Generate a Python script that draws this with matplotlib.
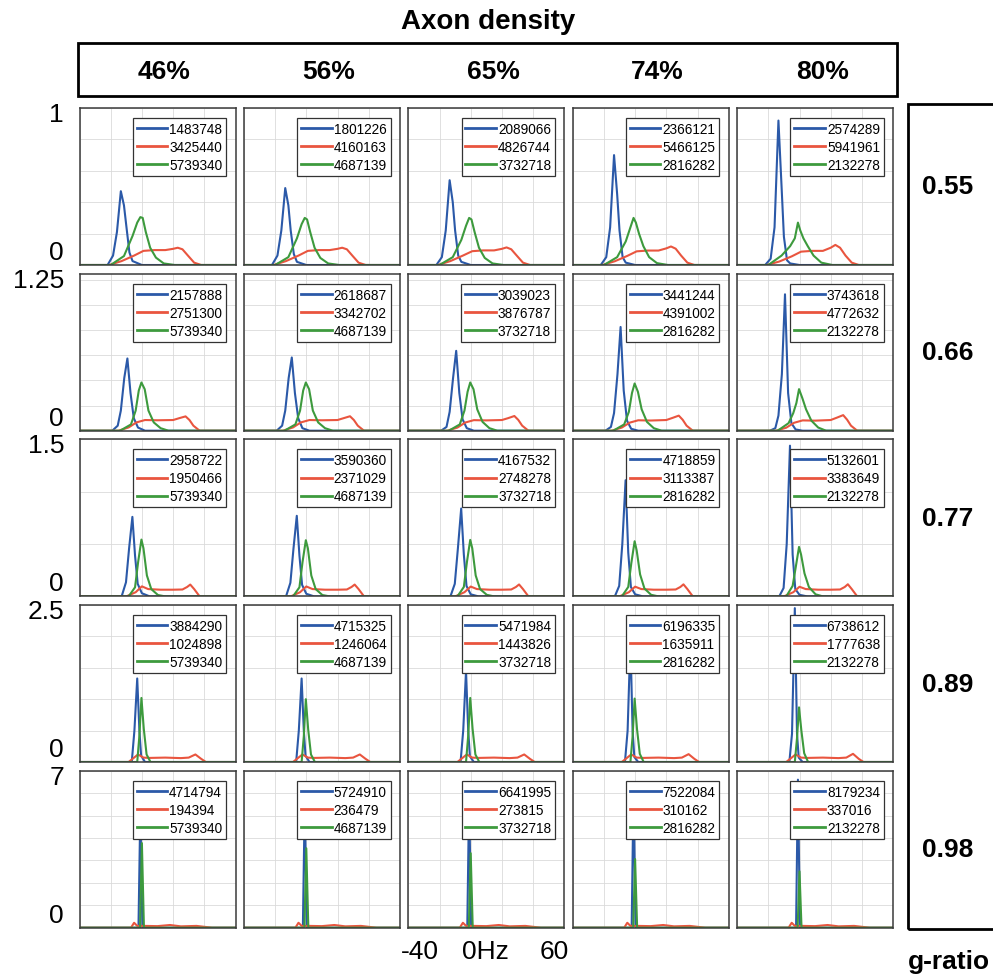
# Spike-rate histograms for 5 g-ratios x 5 axon densities
import numpy as np
import matplotlib.pyplot as plt
from matplotlib.patches import Rectangle

plt.rcParams['font.family'] = ['Liberation Sans', 'DejaVu Sans']

densities = ['46%', '56%', '65%', '74%', '80%']
gratios = ['0.55', '0.66', '0.77', '0.89', '0.98']
ymax = [1, 1.25, 1.5, 2.5, 7]
ytop_labels = ['1', '1.25', '1.5', '2.5', '7']
ystep = [0.2, 0.2, 0.5, 0.5, 1]

blue_counts = [[1483748, 1801226, 2089066, 2366121, 2574289],
               [2157888, 2618687, 3039023, 3441244, 3743618],
               [2958722, 3590360, 4167532, 4718859, 5132601],
               [3884290, 4715325, 5471984, 6196335, 6738612],
               [4714794, 5724910, 6641995, 7522084, 8179234]]
red_counts = [[3425440, 4160163, 4826744, 5466125, 5941961],
              [2751300, 3342702, 3876787, 4391002, 4772632],
              [1950466, 2371029, 2748278, 3113387, 3383649],
              [1024898, 1246064, 1443826, 1635911, 1777638],
              [194394, 236479, 273815, 310162, 337016]]
green_counts = [5739340, 4687139, 3732718, 2816282, 2132278]

# g-ratio 0.55  (x in Hz, one y list per density column)
b1_x = [-40, -22, -18.5, -16, -13.5, -11.5, -10, -8, -6, 0, 60]
b1_y = [[0, 0, 0.06, 0.21, 0.47, 0.38, 0.25, 0.08, 0.025, 0, 0],
        [0, 0, 0.06, 0.22, 0.49, 0.38, 0.22, 0.07, 0.02, 0, 0],
        [0, 0, 0.05, 0.22, 0.54, 0.40, 0.22, 0.06, 0.02, 0, 0],
        [0, 0, 0.05, 0.24, 0.70, 0.45, 0.22, 0.05, 0.015, 0, 0],
        [0, 0, 0.04, 0.24, 0.92, 0.50, 0.18, 0.03, 0.01, 0, 0]]
r1_x = [-40, -21, -13, -5, 1, 8, 15, 20, 23, 26, 29.5, 33.5, 38, 60]
r1_y = [[0, 0, 0.025, 0.06, 0.09, 0.095, 0.095, 0.103, 0.11, 0.10, 0.06, 0.015, 0, 0],
        [0, 0, 0.025, 0.06, 0.09, 0.095, 0.095, 0.103, 0.11, 0.10, 0.06, 0.015, 0, 0],
        [0, 0, 0.025, 0.06, 0.088, 0.093, 0.093, 0.103, 0.112, 0.10, 0.06, 0.015, 0, 0],
        [0, 0, 0.024, 0.058, 0.087, 0.092, 0.092, 0.106, 0.118, 0.104, 0.06, 0.015, 0, 0],
        [0, 0, 0.022, 0.055, 0.085, 0.09, 0.09, 0.11, 0.128, 0.11, 0.06, 0.015, 0, 0]]
g1_x = [-40, -20, -11.5, -6, -3, -1, 0.5, 2.5, 5.3, 9, 14, 21, 60]
g1_y = [[0, 0, 0.057, 0.185, 0.27, 0.305, 0.30, 0.21, 0.11, 0.047, 0.01, 0, 0],
        [0, 0, 0.05, 0.17, 0.26, 0.30, 0.29, 0.21, 0.11, 0.045, 0.01, 0, 0],
        [0, 0, 0.05, 0.16, 0.25, 0.30, 0.29, 0.21, 0.11, 0.045, 0.01, 0, 0],
        [0, 0, 0.05, 0.15, 0.24, 0.30, 0.27, 0.20, 0.12, 0.05, 0.012, 0, 0],
        [0, 0, 0.06, 0.12, 0.17, 0.27, 0.22, 0.17, 0.12, 0.06, 0.015, 0, 0]]

# g-ratio 0.66
b2_x = [-40, -19, -15.5, -13.5, -11.3, -9.3, -7.3, -5.2, -2.5, 2, 60]
b2_y = [[0, 0, 0.04, 0.16, 0.42, 0.575, 0.30, 0.10, 0.025, 0, 0],
        [0, 0, 0.04, 0.16, 0.42, 0.583, 0.30, 0.10, 0.02, 0, 0],
        [0, 0, 0.03, 0.15, 0.42, 0.636, 0.30, 0.09, 0.02, 0, 0],
        [0, 0, 0.03, 0.14, 0.45, 0.826, 0.32, 0.08, 0.015, 0, 0],
        [0, 0, 0.02, 0.12, 0.45, 1.086, 0.30, 0.06, 0.01, 0, 0]]
r2_x = [-40, -15, -8.5, -3.5, 2, 10, 20, 24, 28, 30.5, 33, 37, 60]
r2_y = [[0, 0, 0.026, 0.066, 0.085, 0.083, 0.085, 0.10, 0.114, 0.085, 0.04, 0, 0],
        [0, 0, 0.026, 0.066, 0.085, 0.083, 0.085, 0.10, 0.115, 0.085, 0.04, 0, 0],
        [0, 0, 0.025, 0.065, 0.084, 0.082, 0.085, 0.10, 0.117, 0.086, 0.04, 0, 0],
        [0, 0, 0.025, 0.064, 0.083, 0.081, 0.085, 0.102, 0.12, 0.087, 0.04, 0, 0],
        [0, 0, 0.024, 0.063, 0.082, 0.080, 0.085, 0.104, 0.124, 0.088, 0.04, 0, 0]]
g2_x = [-40, -14, -7, -4, -2, -0.3, 1.8, 4.2, 7.6, 12, 17, 60]
g2_y = [[0, 0, 0.05, 0.16, 0.32, 0.384, 0.33, 0.16, 0.066, 0.02, 0, 0],
        [0, 0, 0.05, 0.16, 0.32, 0.384, 0.33, 0.16, 0.066, 0.02, 0, 0],
        [0, 0, 0.05, 0.16, 0.31, 0.384, 0.33, 0.17, 0.07, 0.02, 0, 0],
        [0, 0, 0.05, 0.15, 0.30, 0.376, 0.31, 0.17, 0.07, 0.02, 0, 0],
        [0, 0, 0.06, 0.14, 0.22, 0.331, 0.26, 0.17, 0.08, 0.025, 0, 0]]

# g-ratio 0.77
b3_x = [-40, -13, -10.2, -8.2, -6.1, -4.4, -2.7, 0, 5, 60]
b3_y = [[0, 0, 0.135, 0.46, 0.76, 0.39, 0.12, 0.03, 0, 0],
        [0, 0, 0.13, 0.46, 0.77, 0.39, 0.11, 0.025, 0, 0],
        [0, 0, 0.12, 0.46, 0.84, 0.40, 0.10, 0.02, 0, 0],
        [0, 0, 0.10, 0.50, 1.11, 0.42, 0.09, 0.02, 0, 0],
        [0, 0, 0.08, 0.50, 1.44, 0.40, 0.07, 0.015, 0, 0]]
r3_x = [-40, -10, -4, 0, 4, 12, 20, 26, 29, 31, 33.5, 37, 60]
r3_y = [[0, 0, 0.04, 0.096, 0.07, 0.064, 0.064, 0.066, 0.09, 0.113, 0.07, 0, 0],
        [0, 0, 0.04, 0.095, 0.07, 0.064, 0.064, 0.066, 0.09, 0.113, 0.07, 0, 0],
        [0, 0, 0.04, 0.094, 0.07, 0.064, 0.064, 0.066, 0.09, 0.114, 0.07, 0, 0],
        [0, 0, 0.04, 0.093, 0.07, 0.064, 0.064, 0.066, 0.09, 0.115, 0.07, 0, 0],
        [0, 0, 0.04, 0.092, 0.07, 0.064, 0.064, 0.066, 0.09, 0.116, 0.07, 0, 0]]
g3_x = [-40, -8.5, -4.4, -2.4, -0.3, 1, 3.2, 6, 10.3, 15, 60]
g3_y = [[0, 0, 0.087, 0.33, 0.543, 0.46, 0.20, 0.07, 0.013, 0, 0],
        [0, 0, 0.087, 0.33, 0.537, 0.46, 0.20, 0.07, 0.013, 0, 0],
        [0, 0, 0.09, 0.33, 0.54, 0.46, 0.20, 0.07, 0.015, 0, 0],
        [0, 0, 0.09, 0.32, 0.527, 0.44, 0.21, 0.075, 0.015, 0, 0],
        [0, 0, 0.10, 0.28, 0.473, 0.40, 0.22, 0.09, 0.02, 0, 0]]

# g-ratio 0.89
b4_x = [-40, -6.5, -4.8, -3, -1.6, -0.5, 2, 60]
b4_y = [[0, 0, 0.50, 1.33, 0.50, 0.10, 0, 0],
        [0, 0, 0.50, 1.33, 0.50, 0.10, 0, 0],
        [0, 0, 0.50, 1.45, 0.50, 0.09, 0, 0],
        [0, 0, 0.50, 1.94, 0.50, 0.08, 0, 0],
        [0, 0, 0.45, 2.45, 0.45, 0.07, 0, 0]]
r4_x = [-40, -8.5, -2.5, 1, 5, 15, 25, 30, 34.3, 38, 41, 60]
r4_y = [[0, 0, 0.12, 0.07, 0.065, 0.07, 0.062, 0.07, 0.12, 0.05, 0, 0],
        [0, 0, 0.12, 0.07, 0.065, 0.07, 0.062, 0.07, 0.12, 0.05, 0, 0],
        [0, 0, 0.12, 0.07, 0.065, 0.07, 0.062, 0.07, 0.12, 0.05, 0, 0],
        [0, 0, 0.12, 0.07, 0.065, 0.07, 0.062, 0.07, 0.125, 0.05, 0, 0],
        [0, 0, 0.12, 0.07, 0.065, 0.07, 0.062, 0.07, 0.13, 0.05, 0, 0]]
g4_x = [-40, -3, -1.6, -0.3, 1.2, 3, 5.5, 60]
g4_y = [[0, 0, 0.42, 1.02, 0.53, 0.12, 0, 0],
        [0, 0, 0.41, 1.00, 0.52, 0.12, 0, 0],
        [0, 0, 0.42, 1.02, 0.53, 0.12, 0, 0],
        [0, 0, 0.41, 1.01, 0.53, 0.13, 0, 0],
        [0, 0, 0.38, 0.87, 0.50, 0.14, 0, 0]]

# g-ratio 0.98
b5_x = [-40, -2.2, -1, 0.3, 60]
b5_y = [[0, 0, 5.3, 0, 0],
        [0, 0, 5.6, 0, 0],
        [0, 0, 5.9, 0, 0],
        [0, 0, 6.3, 0, 0],
        [0, 0, 6.6, 0, 0]]
r5_x = [-40, -7, -5, -3, 2, 10, 18, 25, 35, 45, 60]
r5_y = [[0, 0, 0.22, 0.08, 0.08, 0.07, 0.12, 0.06, 0.08, 0, 0],
        [0, 0, 0.22, 0.08, 0.08, 0.07, 0.12, 0.06, 0.08, 0, 0],
        [0, 0, 0.22, 0.08, 0.08, 0.07, 0.12, 0.06, 0.08, 0, 0],
        [0, 0, 0.22, 0.08, 0.08, 0.07, 0.12, 0.06, 0.08, 0, 0],
        [0, 0, 0.22, 0.08, 0.08, 0.07, 0.12, 0.06, 0.08, 0, 0]]
g5_x = [-40, -1.2, 0, 1.3, 60]
g5_y = [[0, 0, 3.77, 0, 0],
        [0, 0, 3.54, 0, 0],
        [0, 0, 3.32, 0, 0],
        [0, 0, 3.06, 0, 0],
        [0, 0, 2.51, 0, 0]]

blue_x = [b1_x, b2_x, b3_x, b4_x, b5_x]
blue_y = [b1_y, b2_y, b3_y, b4_y, b5_y]
red_x = [r1_x, r2_x, r3_x, r4_x, r5_x]
red_y = [r1_y, r2_y, r3_y, r4_y, r5_y]
green_x = [g1_x, g2_x, g3_x, g4_x, g5_x]
green_y = [g1_y, g2_y, g3_y, g4_y, g5_y]

BLUE = '#2b59a8'
RED = '#e9553f'
GREEN = '#3d9a3d'

W, H = 993, 978
fig = plt.figure(figsize=(W / 100, H / 100), dpi=100)


def fx(px):
    return px / W


def fy(py):
    return 1 - py / H


lefts = [79.5, 243.9, 408.3, 572.7, 737.1]
tops = [109, 274.7, 440.4, 606, 771.7]
pw, ph = 156, 157

for r in range(5):
    for c in range(5):
        ax = fig.add_axes([fx(lefts[c]), fy(tops[r] + ph), pw / W, ph / H])
        lb, = ax.plot(blue_x[r], blue_y[r][c], color=BLUE, lw=1.5)
        lr, = ax.plot(red_x[r], red_y[r][c], color=RED, lw=1.5)
        lg, = ax.plot(green_x[r], green_y[r][c], color=GREEN, lw=1.5)
        ax.set_xlim(-40, 60)
        ax.set_ylim(0, ymax[r])
        ax.set_xticks(np.arange(-40, 61, 20))
        ax.set_yticks(np.arange(0, ymax[r] + 1e-9, ystep[r]))
        ax.tick_params(length=0, labelbottom=False, labelleft=False)
        ax.grid(color='#dadada', lw=0.6)
        ax.set_axisbelow(True)
        for s in ax.spines.values():
            s.set_color('#3a3a3a')
            s.set_linewidth(1.1)
        leg = ax.legend([lb, lr, lg],
                        [str(blue_counts[r][c]), str(red_counts[r][c]),
                         str(green_counts[c])],
                        loc='upper right', bbox_to_anchor=(0.94, 0.936),
                        borderaxespad=0, fontsize=9.8, handlelength=2.25,
                        handletextpad=0.15, labelspacing=0.3, borderpad=0.28,
                        fancybox=False, framealpha=1, edgecolor='#333333')
        leg.get_frame().set_linewidth(0.9)
        for line in leg.get_lines():
            line.set_linewidth(2.0)

    # y-range labels on the left
    fig.text(fx(64), fy(tops[r] + 6), ytop_labels[r], fontsize=19,
             ha='right', va='center')
    fig.text(fx(64), fy(tops[r] + ph - 13), '0', fontsize=19,
             ha='right', va='center')
    # g-ratio values on the right
    fig.text(fx(948), fy(tops[r] + ph / 2), gratios[r], fontsize=19,
             fontweight='bold', ha='center', va='center')

# header
fig.text(fx(488), fy(22), 'Axon density', fontsize=20, fontweight='bold',
         ha='center', va='center')
fig.add_artist(Rectangle((fx(78), fy(97)), fx(897) - fx(78), fy(44) - fy(97),
                         transform=fig.transFigure, fill=False,
                         edgecolor='black', lw=2))
for c in range(5):
    fig.text(fx(lefts[c] + pw / 2 + 7), fy(72), densities[c], fontsize=19,
             fontweight='bold', ha='center', va='center')

# right box
fig.add_artist(Rectangle((fx(908), fy(930)), fx(1020) - fx(908),
                         fy(105) - fy(930), transform=fig.transFigure,
                         fill=False, edgecolor='black', lw=2))
fig.text(fx(908), fy(962), 'g-ratio', fontsize=19, fontweight='bold',
         ha='left', va='center')

# x-axis labels under the middle column
fig.text(fx(420), fy(952), '-40', fontsize=19, ha='center', va='center')
fig.text(fx(462), fy(952), '0Hz', fontsize=19, ha='left', va='center')
fig.text(fx(554), fy(952), '60', fontsize=19, ha='center', va='center')

fig.savefig('out.png', dpi=100)
